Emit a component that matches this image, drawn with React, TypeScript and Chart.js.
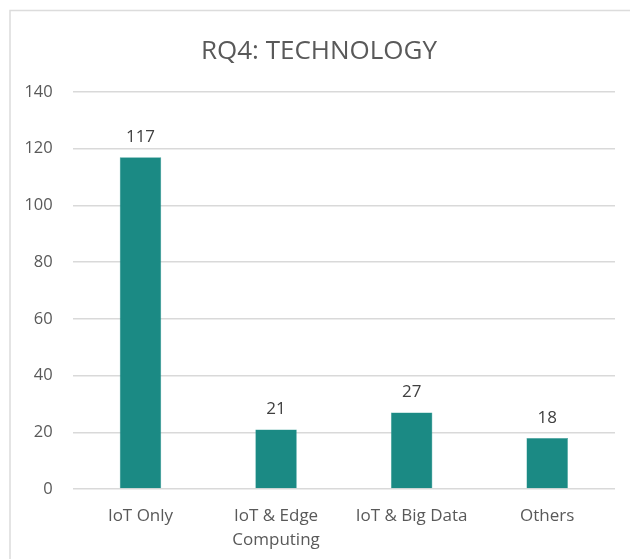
import React, { useEffect, useRef } from "react";
import { Chart, registerables } from "chart.js";

Chart.register(...registerables);

const categories: (string | string[])[] = ["IoT Only", ["IoT & Edge", "Computing"], "IoT & Big Data", "Others"];
const counts = [117, 21, 27, 18];
const yTicks = [0, 20, 40, 60, 80, 100, 120, 140];
const titleText = "RQ4: TECHNOLOGY";

const FONT = "'Open Sans', 'Noto Sans', sans-serif";

const frame = {
  id: "frame",
  beforeDraw(chart: any) {
    const ctx = chart.ctx;
    ctx.save();
    ctx.fillStyle = "#ffffff";
    ctx.fillRect(0, 0, chart.width, chart.height);
    ctx.strokeStyle = "#dcdcdc";
    ctx.lineWidth = 1.5;
    ctx.strokeRect(10, 10.5, chart.width + 20, chart.height + 20);
    ctx.restore();
  },
};

const valueLabels = {
  id: "valueLabels",
  afterDatasetsDraw(chart: any) {
    const ctx = chart.ctx;
    const meta = chart.getDatasetMeta(0);
    ctx.save();
    ctx.font = `17px ${FONT}`;
    ctx.fillStyle = "#404040";
    ctx.textAlign = "center";
    ctx.textBaseline = "middle";
    meta.data.forEach((bar: any, i: number) => {
      ctx.fillText(String(counts[i]), bar.x, bar.y - 20);
    });
    ctx.restore();
  },
};

export default function App() {
  const ref = useRef<HTMLCanvasElement>(null);
  useEffect(() => {
    if (!ref.current) return;
    const chart = new Chart(ref.current, {
      type: "bar",
      data: {
        labels: categories,
        datasets: [
          {
            data: counts,
            backgroundColor: "#1b8a84",
            borderColor: "#3a9f99",
            borderWidth: 0.5,
            categoryPercentage: 1,
            barPercentage: 0.306,
          },
        ],
      },
      options: {
        responsive: false,
        animation: false,
        layout: { padding: { left: 23, right: 15, top: 10, bottom: 0 } },
        plugins: {
          legend: { display: false },
          tooltip: { enabled: false },
          title: {
            display: true,
            text: titleText,
            color: "#595959",
            font: { family: FONT, size: 26, weight: "normal" },
            padding: { top: 26.4, bottom: 24.4 },
          },
        },
        scales: {
          x: {
            grid: { display: false },
            border: { display: false },
            ticks: {
              color: "#595959",
              font: { family: FONT, size: 17, lineHeight: 1.42 },
              padding: 7,
              maxRotation: 0,
              autoSkip: false,
            },
            afterFit(scale: any) {
              scale.height = 70;
            },
          },
          y: {
            min: 0,
            max: 140,
            afterBuildTicks(scale: any) {
              scale.ticks = yTicks.map((v) => ({ value: v }));
            },
            grid: { color: "#d9d9d9", lineWidth: 1.5, drawTicks: false },
            border: { display: false },
            ticks: {
              color: "#595959",
              font: { family: FONT, size: 16.5 },
              padding: 20,
            },
            afterFit(scale: any) {
              scale.width = 72.7 - 23;
            },
          },
        },
      },
      plugins: [frame, valueLabels],
    });
    return () => chart.destroy();
  }, []);
  return (
    <div style={{ position: "fixed", left: 0, top: 0, width: 630, height: 559, background: "#fff" }}>
      <canvas ref={ref} width={630} height={559} style={{ display: "block", width: 630, height: 559 }} />
    </div>
  );
}
